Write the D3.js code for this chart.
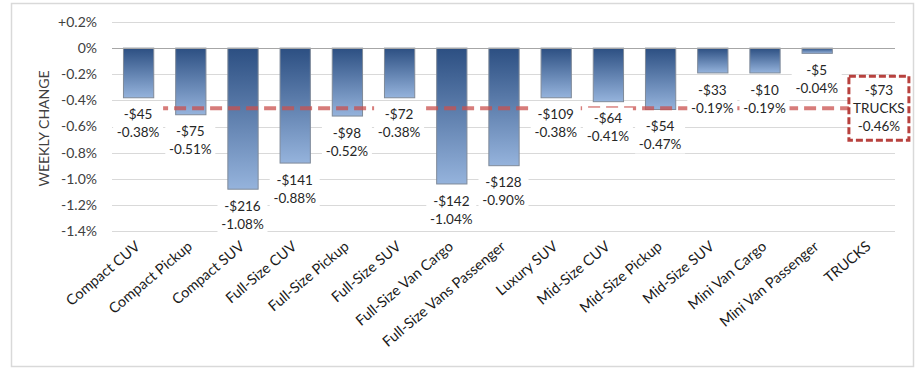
<!DOCTYPE html>
<html>
<head>
<meta charset="utf-8">
<script src="https://cdn.jsdelivr.net/npm/d3@7"></script>
<style>
  body { margin: 0; background: #fff; }
  svg { display: block; font-family: Lato, "Open Sans", sans-serif; }
</style>
</head>
<body>
<svg width="920" height="370"></svg>
<script>
// segment names, weekly % change and $ change
let categories = ["Compact CUV", "Compact Pickup", "Compact SUV", "Full-Size CUV", "Full-Size Pickup",
  "Full-Size SUV", "Full-Size Van Cargo", "Full-Size Vans Passenger", "Luxury SUV", "Mid-Size CUV",
  "Mid-Size Pickup", "Mid-Size SUV", "Mini Van Cargo", "Mini Van Passenger", "TRUCKS"];
let pctChange = [-0.38, -0.51, -1.08, -0.88, -0.52, -0.38, -1.04, -0.90, -0.38, -0.41, -0.47, -0.19, -0.19, -0.04];
let dollarChange = [-45, -75, -216, -141, -98, -72, -142, -128, -109, -64, -54, -33, -10, -5];
let trucksPct = -0.46;
let trucksDollar = -73;
let yTicks = [0.2, 0, -0.2, -0.4, -0.6, -0.8, -1.0, -1.2, -1.4];
let yTickLabels = ["+0.2%", "0%", "-0.2%", "-0.4%", "-0.6%", "-0.8%", "-1.0%", "-1.2%", "-1.4%"];

let svg = d3.select("svg");
let plot = {left: 112, right: 895, top: 22, bottom: 231};

let x = d3.scaleBand().domain(categories).range([plot.left, plot.right]).paddingInner(0.42).paddingOuter(0.21);
let y = d3.scaleLinear().domain([-1.4, 0.2]).range([plot.bottom, plot.top]);

let bars = categories.slice(0, pctChange.length).map((c, i) => ({cat: c, pct: pctChange[i], usd: dollarChange[i]}));

// outer frame
svg.append("rect")
    .attr("x", 11.5).attr("y", 3.5).attr("width", 902).attr("height", 363)
    .attr("fill", "none").attr("stroke", "#d9d9d9").attr("stroke-width", 1.5);

let grad = svg.append("defs").append("linearGradient")
    .attr("id", "barFill").attr("x1", 0).attr("y1", 0).attr("x2", 0).attr("y2", 1);
grad.append("stop").attr("offset", "0%").attr("stop-color", "#2c4f82");
grad.append("stop").attr("offset", "100%").attr("stop-color", "#95b3dc");

// gridlines
svg.append("g").selectAll("line").data(yTicks.filter(t => t !== 0))
  .enter().append("line")
    .attr("x1", plot.left).attr("x2", plot.right)
    .attr("y1", d => Math.round(y(d)) + 0.5).attr("y2", d => Math.round(y(d)) + 0.5)
    .attr("stroke", "#d9d9d9");

// y tick labels
svg.append("g").selectAll("text").data(yTicks)
  .enter().append("text")
    .attr("x", 97).attr("y", d => y(d)).attr("dy", "0.35em")
    .attr("text-anchor", "end").attr("font-size", 14).attr("fill", "#404040")
    .text((d, i) => yTickLabels[i]);

svg.append("text")
    .attr("transform", "translate(49," + ((plot.top + plot.bottom) / 2 + 2) + ") rotate(-90)")
    .attr("text-anchor", "middle").attr("font-size", 14).attr("fill", "#404040")
    .text("WEEKLY CHANGE");

// bars
svg.append("g").selectAll("rect").data(bars)
  .enter().append("rect")
    .attr("x", d => x(d.cat) + 0.5)
    .attr("y", y(0))
    .attr("width", x.bandwidth())
    .attr("height", d => y(d.pct) - y(0))
    .attr("fill", "url(#barFill)")
    .attr("stroke", "#7f8a99").attr("stroke-width", 1);

// zero line
svg.append("line")
    .attr("x1", plot.left).attr("x2", plot.right)
    .attr("y1", Math.round(y(0)) + 0.5).attr("y2", Math.round(y(0)) + 0.5)
    .attr("stroke", "#a6a6a6");

// average (TRUCKS) line
svg.append("line")
    .attr("x1", x(categories[0]) + x.bandwidth() / 2)
    .attr("x2", x("TRUCKS") + x.bandwidth() / 2)
    .attr("y1", y(trucksPct)).attr("y2", y(trucksPct))
    .attr("stroke", "#c9504d").attr("stroke-opacity", 0.75)
    .attr("stroke-width", 4).attr("stroke-dasharray", "12,6");

// data labels
let labels = svg.append("g").selectAll("g").data(bars)
  .enter().append("g")
    .attr("transform", d => "translate(" + (x(d.cat) + x.bandwidth() / 2) + "," + y(d.pct) + ")");
labels.append("rect")
    .attr("x", -25).attr("y", 6).attr("width", 50).attr("height", 38)
    .attr("fill", "#fff");
labels.append("text")
    .attr("y", 17).attr("dy", "0.35em").attr("text-anchor", "middle")
    .attr("font-size", 13.5).attr("fill", "#262626")
    .text(d => "-$" + Math.abs(d.usd));
labels.append("text")
    .attr("y", 35).attr("dy", "0.35em").attr("text-anchor", "middle")
    .attr("font-size", 13.5).attr("fill", "#262626")
    .text(d => d.pct.toFixed(2) + "%");

// TRUCKS callout box
let tx = x("TRUCKS") + x.bandwidth() / 2 + 10;
let ty = y(trucksPct);
let box = svg.append("g").attr("transform", "translate(" + tx + "," + ty + ")");
box.append("rect")
    .attr("x", -30).attr("y", -32).attr("width", 60).attr("height", 64)
    .attr("fill", "#fff").attr("stroke", "#b8413e").attr("stroke-width", 3)
    .attr("stroke-dasharray", "7,3");
box.selectAll("text").data(["-$" + Math.abs(trucksDollar), "TRUCKS", trucksPct.toFixed(2) + "%"])
  .enter().append("text")
    .attr("y", (d, i) => (i - 1) * 18).attr("dy", "0.35em")
    .attr("text-anchor", "middle").attr("font-size", 13.5).attr("fill", "#262626")
    .text(d => d);

// category labels
svg.append("g").selectAll("text").data(categories)
  .enter().append("text")
    .attr("transform", d => "translate(" + (x(d) + x.bandwidth() / 2 + 3) + ",248) rotate(-40)")
    .attr("text-anchor", "end").attr("font-size", 14.5).attr("fill", "#1a1a1a")
    .text(d => d);
</script>
</body>
</html>
